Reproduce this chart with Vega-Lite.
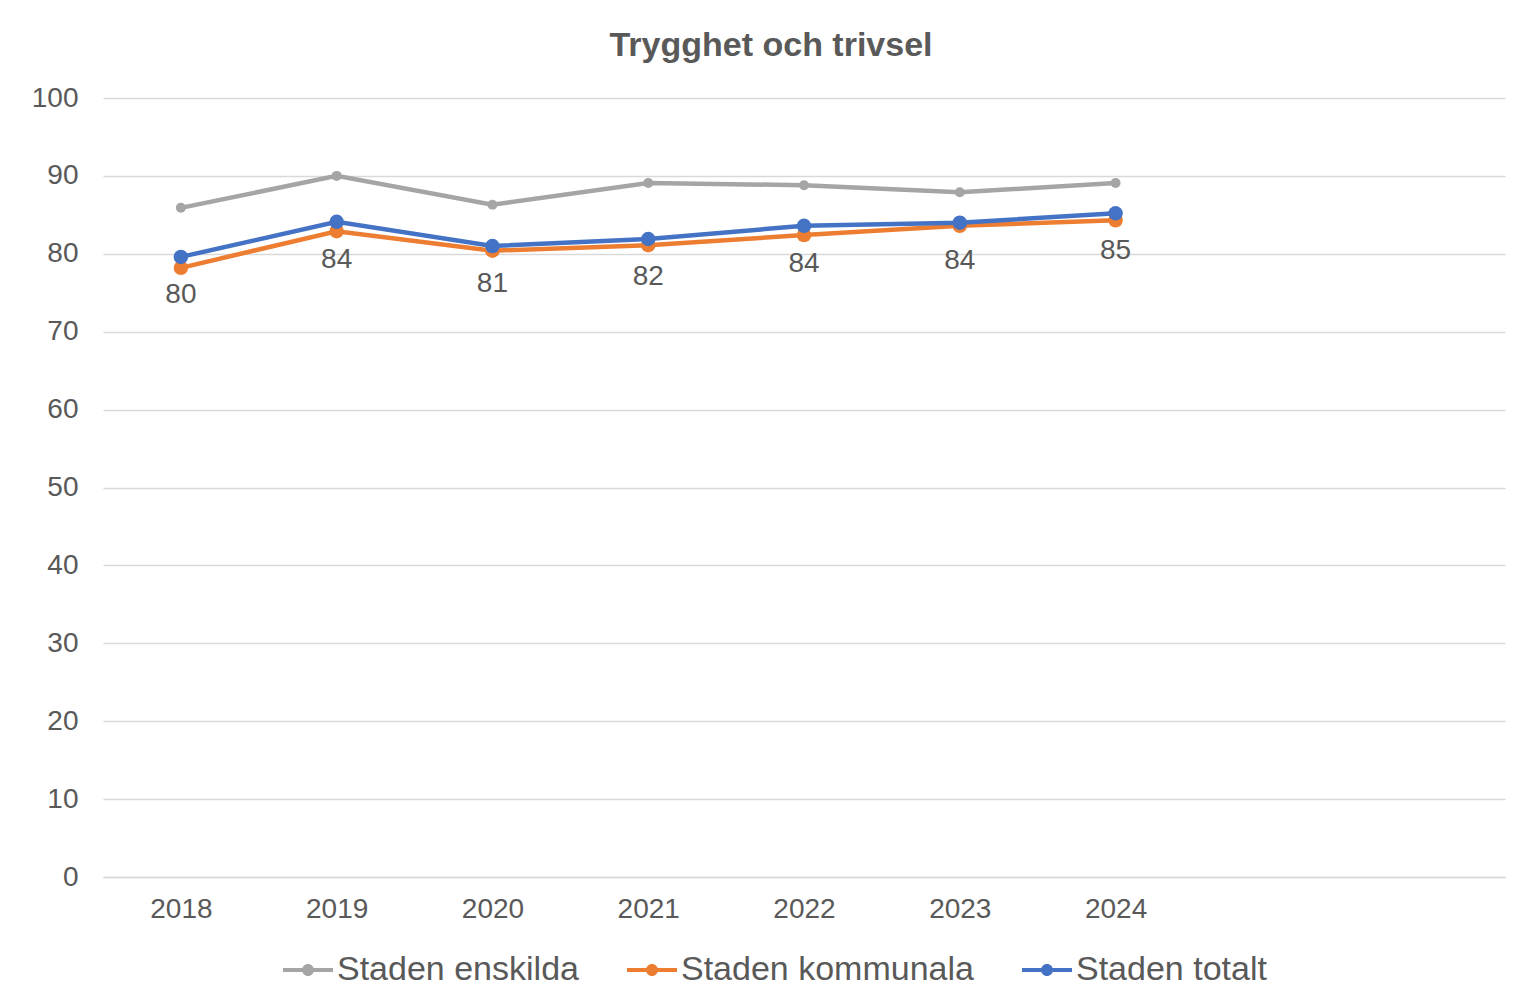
{
  "$schema": "https://vega.github.io/schema/vega-lite/v6.json",
  "autosize": {"type": "none"},
  "width": 1402,
  "height": 779,
  "padding": {"left": 103, "top": 98, "right": 14, "bottom": 126},
  "background": "white",
  "title": {
    "text": "Trygghet och trivsel",
    "font": "Liberation Sans",
    "fontSize": 34,
    "fontWeight": "bold",
    "color": "#595959",
    "anchor": "middle",
    "frame": "group",
    "baseline": "alphabetic",
    "offset": -6,
    "dx": -33
  },
  "data": {
    "values": [
      {"year": "2018", "serie": "Staden enskilda", "value": 85.9},
      {"year": "2019", "serie": "Staden enskilda", "value": 90.0},
      {"year": "2020", "serie": "Staden enskilda", "value": 86.3},
      {"year": "2021", "serie": "Staden enskilda", "value": 89.1},
      {"year": "2022", "serie": "Staden enskilda", "value": 88.8},
      {"year": "2023", "serie": "Staden enskilda", "value": 87.9},
      {"year": "2024", "serie": "Staden enskilda", "value": 89.1},
      {"year": "2018", "serie": "Staden kommunala", "value": 78.2},
      {"year": "2019", "serie": "Staden kommunala", "value": 82.9},
      {"year": "2020", "serie": "Staden kommunala", "value": 80.4},
      {"year": "2021", "serie": "Staden kommunala", "value": 81.1},
      {"year": "2022", "serie": "Staden kommunala", "value": 82.4},
      {"year": "2023", "serie": "Staden kommunala", "value": 83.6},
      {"year": "2024", "serie": "Staden kommunala", "value": 84.3},
      {"year": "2018", "serie": "Staden totalt", "value": 79.6},
      {"year": "2019", "serie": "Staden totalt", "value": 84.1},
      {"year": "2020", "serie": "Staden totalt", "value": 81.0},
      {"year": "2021", "serie": "Staden totalt", "value": 81.9},
      {"year": "2022", "serie": "Staden totalt", "value": 83.6},
      {"year": "2023", "serie": "Staden totalt", "value": 84.0},
      {"year": "2024", "serie": "Staden totalt", "value": 85.2}
    ]
  },
  "encoding": {
    "x": {
      "field": "year",
      "type": "ordinal",
      "scale": {"type": "point", "padding": 0.5, "domain": ["2018", "2019", "2020", "2021", "2022", "2023", "2024", "2025", "2026"]},
      "axis": {
        "title": null,
        "labelAngle": 0,
        "labelExpr": "datum.value > '2024' ? '' : datum.label",
        "ticks": false,
        "grid": false,
        "domain": true,
        "domainColor": "#D9D9D9",
        "domainWidth": 1.5,
        "labelPadding": 18,
        "labelFont": "Liberation Sans",
        "labelFontSize": 28,
        "labelColor": "#595959"
      }
    },
    "y": {
      "field": "value",
      "type": "quantitative",
      "scale": {"domain": [0, 100], "nice": false, "zero": true},
      "axis": {
        "title": null,
        "values": [0, 10, 20, 30, 40, 50, 60, 70, 80, 90, 100],
        "ticks": false,
        "domain": false,
        "grid": true,
        "gridColor": "#D9D9D9",
        "gridWidth": 1.5,
        "labelPadding": 25,
        "labelFont": "Liberation Sans",
        "labelFontSize": 28,
        "labelColor": "#595959"
      }
    },
    "color": {
      "field": "serie",
      "type": "nominal",
      "scale": {"domain": ["Staden enskilda", "Staden kommunala", "Staden totalt"], "range": ["#A5A5A5", "#ED7D31", "#4472C4"]},
      "legend": {
        "title": null,
        "orient": "none",
        "direction": "horizontal",
        "columns": 3,
        "legendX": 180,
        "legendY": 847,
        "symbolType": "M-1,-0.08H1V0.08H-1Z M-0.24,0A0.24,0.24 0 1,1 0.24,0A0.24,0.24 0 1,1 -0.24,0Z",
        "symbolSize": 2500,
        "symbolStrokeWidth": 0,
        "symbolOpacity": 1,
        "labelFont": "Liberation Sans",
        "labelFontSize": 34,
        "labelColor": "#595959",
        "labelOffset": 4,
        "columnPadding": 48,
        "labelLimit": 400,
        "encode": {
          "symbols": {
            "update": {
              "fill": {"scale": "color", "field": "value"},
              "stroke": {"value": "transparent"},
              "opacity": {"value": 1},
              "size": {"value": 2500}
            }
          }
        }
      }
    }
  },
  "layer": [
    {
      "mark": {"type": "line", "strokeWidth": 4.5},
      "encoding": {
        "detail": {"field": "serie"}
      }
    },
    {
      "transform": [{"filter": "datum.serie == 'Staden enskilda'"}],
      "mark": {"type": "point", "filled": true, "opacity": 1, "shape": "circle", "size": 100}
    },
    {
      "transform": [{"filter": "datum.serie != 'Staden enskilda'"}],
      "mark": {"type": "point", "filled": true, "opacity": 1, "shape": "circle", "size": 210}
    },
    {
      "transform": [{"filter": "datum.serie == 'Staden totalt'"}],
      "mark": {"type": "text", "dy": 38, "font": "Liberation Sans", "fontSize": 28, "baseline": "middle", "align": "center"},
      "encoding": {
        "text": {"field": "value", "type": "quantitative", "format": ".0f"},
        "color": {"value": "#595959"}
      }
    }
  ],
  "config": {
    "view": {"stroke": null}
  }
}
